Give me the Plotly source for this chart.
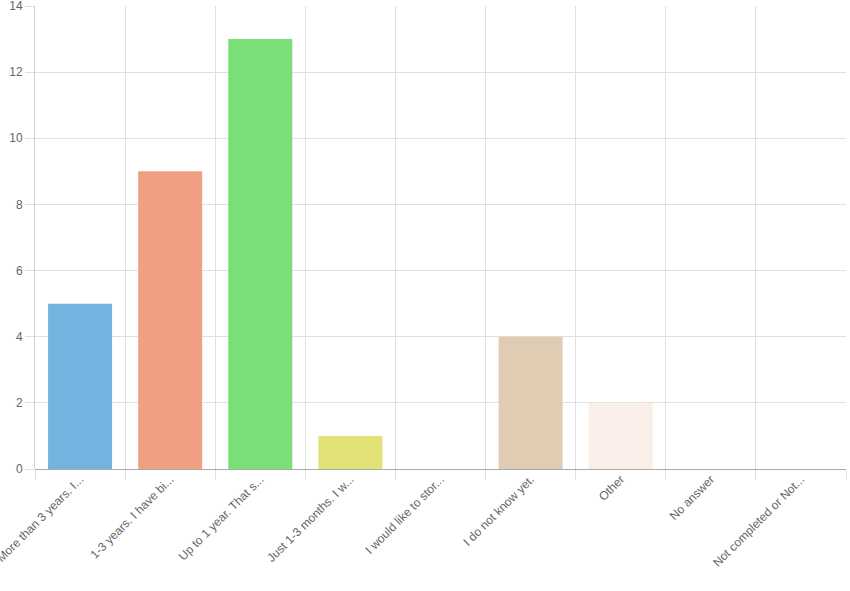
import plotly.graph_objects as go

categories = [
    "More than 3 years. I...",
    "1-3 years. I have bi...",
    "Up to 1 year. That s...",
    "Just 1-3 months. I w...",
    "I would like to stor...",
    "I do not know yet.",
    "Other",
    "No answer",
    "Not completed or Not...",
]
values = [5, 9, 13, 1, 0, 4, 2, 0, 0]
bar_colors = ["#72B3DF", "#F09F82", "#79E077", "#E3E277", "#C9A0DC",
              "#DFCCB2", "#FAEEE8", "#CCCCCC", "#CCCCCC"]
y_ticks = [0, 2, 4, 6, 8, 10, 12, 14]

fig = go.Figure(go.Bar(
    x=categories,
    y=values,
    marker=dict(color=bar_colors, line=dict(width=0)),
    width=0.71,
))

fig.update_layout(
    width=850, height=591,
    margin=dict(l=35, r=4, t=6, b=122),
    paper_bgcolor="white", plot_bgcolor="white",
    font=dict(family="Liberation Sans, Arial, sans-serif", size=12, color="#666666"),
    showlegend=False,
    xaxis=dict(
        type="category",
        automargin=False,
        tickson="boundaries",
        ticks="outside", ticklen=10, tickcolor="#e0e0e0",
        showgrid=True, gridcolor="#e0e0e0", gridwidth=1,
        tickangle=-45,
        tickfont=dict(color="#666666", size=12),
        ticklabeloverflow="allow",
        showline=False,
    ),
    yaxis=dict(
        automargin=False,
        range=[0, 14],
        tickvals=y_ticks,
        ticktext=[str(v) for v in y_ticks],
        ticks="outside", ticklen=9, tickcolor="#e0e0e0",
        tickfont=dict(color="#666666", size=12),
        ticklabeloverflow="allow",
        showgrid=True, gridcolor="#e0e0e0", gridwidth=1,
        showline=True, linecolor="#cfcfcf", linewidth=1,
        zeroline=True, zerolinecolor="#aaaaaa", zerolinewidth=1,
        ticklabelstandoff=0,
    ),
)

fig.write_html("out.html",
               config={"displayModeBar": False},
               post_script="document.body.style.margin='0';document.body.style.overflow='hidden';")
